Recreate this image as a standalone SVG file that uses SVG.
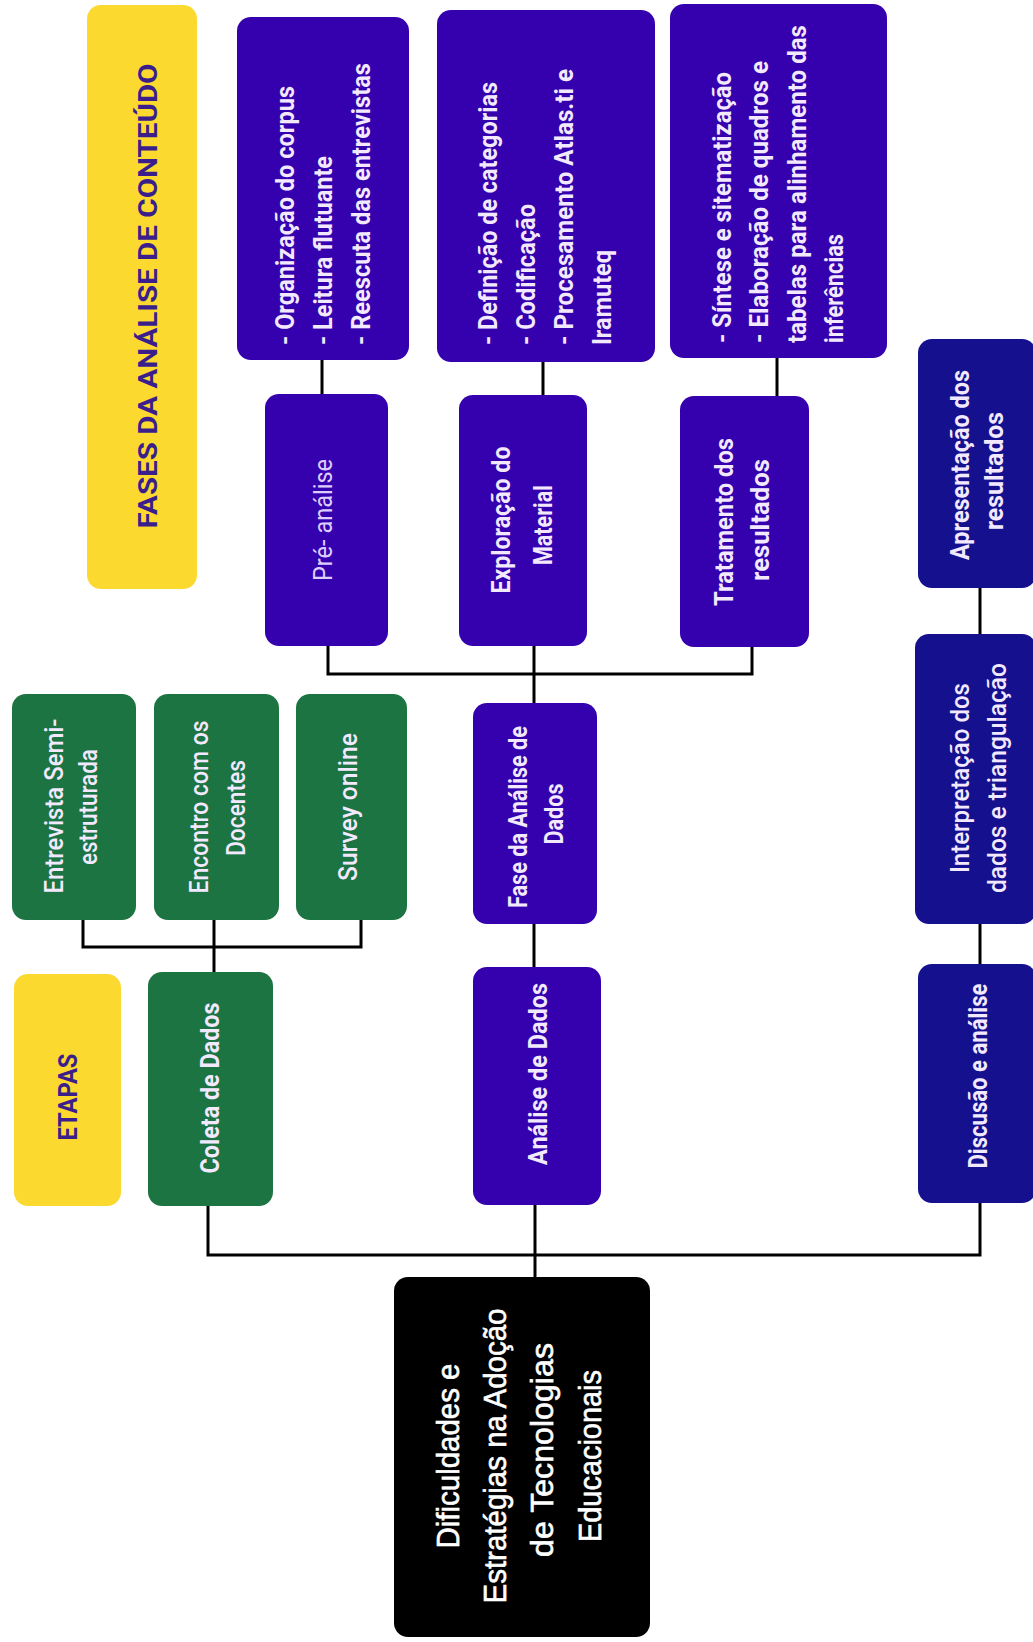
<svg xmlns="http://www.w3.org/2000/svg" width="1033" height="1642" viewBox="0 0 1033 1642">
<style>
.p{fill:#3500ad}
.n{fill:#15108e}
.g{fill:#1b7442}
.y{fill:#fcd92e}
.k{fill:#000}
.t{font-family:Roboto,'Liberation Sans',sans-serif;font-weight:700;font-size:25px;fill:#f3e9ff}
.m{font-weight:500}
.r{font-weight:400;fill:#dccdff}
.h{fill:#3a1f8c}
.b{font-family:'Liberation Sans',Arial,sans-serif;font-weight:400;font-size:31px;fill:#fff;stroke:#fff;stroke-width:0.6}
.c{stroke:#000;stroke-width:3;fill:none}
</style>
<rect width="1033" height="1642" fill="#fff"/>

<g id="connectors">
  <path class="c" d="M322,360 V394"/>
  <path class="c" d="M543,362 V395"/>
  <path class="c" d="M777,358 V396"/>
  <path class="c" d="M328,646 V674 H752 V647"/>
  <path class="c" d="M534,646 V703"/>
  <path class="c" d="M534,924 V967"/>
  <path class="c" d="M535,1205 V1277"/>
  <path class="c" d="M208,1206 V1255 H980 V1203"/>
  <path class="c" d="M980,588 V634"/>
  <path class="c" d="M980,924 V964"/>
  <path class="c" d="M83,920 V947 H361 V920"/>
  <path class="c" d="M214,920 V972"/>
</g>

<g id="fases-title">
  <rect class="y" x="87" y="5" width="110" height="584" rx="14"/>
  <text class="t h" font-size="36" text-anchor="middle" transform="translate(157,296) rotate(-90)" textLength="465" lengthAdjust="spacingAndGlyphs">FASES DA ANÁLISE DE CONTEÚDO</text>
</g>

<g id="pre-detalhes">
  <rect class="p" x="237" y="17" width="172" height="343" rx="14"/>
  <text class="t" transform="translate(294,345) rotate(-90)" textLength="259" lengthAdjust="spacingAndGlyphs">- Organização do corpus</text>
  <text class="t" transform="translate(332,345) rotate(-90)" textLength="189" lengthAdjust="spacingAndGlyphs">- Leitura flutuante</text>
  <text class="t" transform="translate(370,345) rotate(-90)" textLength="282" lengthAdjust="spacingAndGlyphs">- Reescuta das entrevistas</text>
</g>

<g id="exploracao-detalhes">
  <rect class="p" x="437" y="10" width="218" height="352" rx="14"/>
  <text class="t" transform="translate(497,345) rotate(-90)" textLength="263" lengthAdjust="spacingAndGlyphs">- Definição de categorias</text>
  <text class="t" transform="translate(535,345) rotate(-90)" textLength="141" lengthAdjust="spacingAndGlyphs">- Codificação</text>
  <text class="t" transform="translate(573,345) rotate(-90)" textLength="276" lengthAdjust="spacingAndGlyphs">- Procesamento Atlas.ti e</text>
  <text class="t" transform="translate(611,345) rotate(-90)" textLength="95" lengthAdjust="spacingAndGlyphs">Iramuteq</text>
</g>

<g id="tratamento-detalhes">
  <rect class="p" x="670" y="4" width="217" height="354" rx="14"/>
  <text class="t" transform="translate(731,343) rotate(-90)" textLength="271" lengthAdjust="spacingAndGlyphs">- Síntese e sitematização</text>
  <text class="t" transform="translate(768,343) rotate(-90)" textLength="282" lengthAdjust="spacingAndGlyphs">- Elaboração de quadros e</text>
  <text class="t" transform="translate(806,343) rotate(-90)" textLength="318" lengthAdjust="spacingAndGlyphs">tabelas para alinhamento das</text>
  <text class="t" transform="translate(843,343) rotate(-90)" textLength="109" lengthAdjust="spacingAndGlyphs">inferências</text>
</g>

<g id="pre-analise">
  <rect class="p" x="265" y="394" width="123" height="252" rx="14"/>
  <text class="t r" text-anchor="middle" transform="translate(332,520) rotate(-90)" textLength="122" lengthAdjust="spacingAndGlyphs">Pré- análise</text>
</g>

<g id="exploracao">
  <rect class="p" x="459" y="395" width="128" height="251" rx="14"/>
  <text class="t" text-anchor="middle" transform="translate(510,520) rotate(-90)" textLength="147" lengthAdjust="spacingAndGlyphs">Exploração do</text>
  <text class="t" text-anchor="middle" transform="translate(552,525) rotate(-90)" textLength="80" lengthAdjust="spacingAndGlyphs">Material</text>
</g>

<g id="tratamento">
  <rect class="p" x="680" y="396" width="129" height="251" rx="14"/>
  <text class="t" text-anchor="middle" transform="translate(733,522) rotate(-90)" textLength="168" lengthAdjust="spacingAndGlyphs">Tratamento dos</text>
  <text class="t" text-anchor="middle" transform="translate(769,520) rotate(-90)" textLength="122" lengthAdjust="spacingAndGlyphs">resultados</text>
</g>

<g id="entrevista">
  <rect class="g" x="12" y="694" width="124" height="226" rx="14"/>
  <text class="t m" text-anchor="middle" transform="translate(63,806) rotate(-90)" textLength="175" lengthAdjust="spacingAndGlyphs">Entrevista Semi-</text>
  <text class="t m" text-anchor="middle" transform="translate(97,807) rotate(-90)" textLength="116" lengthAdjust="spacingAndGlyphs">estruturada</text>
</g>

<g id="encontro">
  <rect class="g" x="154" y="694" width="125" height="226" rx="14"/>
  <text class="t m" text-anchor="middle" transform="translate(208,807) rotate(-90)" textLength="173" lengthAdjust="spacingAndGlyphs">Encontro com os</text>
  <text class="t m" text-anchor="middle" transform="translate(245,808) rotate(-90)" textLength="96" lengthAdjust="spacingAndGlyphs">Docentes</text>
</g>

<g id="survey">
  <rect class="g" x="296" y="694" width="111" height="226" rx="14"/>
  <text class="t m" text-anchor="middle" transform="translate(357,807) rotate(-90)" textLength="148" lengthAdjust="spacingAndGlyphs">Survey online</text>
</g>

<g id="etapas">
  <rect class="y" x="14" y="974" width="107" height="232" rx="14"/>
  <text class="t h" font-size="28" text-anchor="middle" transform="translate(77,1097) rotate(-90)" textLength="87" lengthAdjust="spacingAndGlyphs">ETAPAS</text>
</g>

<g id="coleta">
  <rect class="g" x="148" y="972" width="125" height="234" rx="14"/>
  <text class="t" text-anchor="middle" transform="translate(219,1088) rotate(-90)" textLength="171" lengthAdjust="spacingAndGlyphs">Coleta de Dados</text>
</g>

<g id="fase-analise">
  <rect class="p" x="473" y="703" width="124" height="221" rx="14"/>
  <text class="t" text-anchor="middle" transform="translate(527,817) rotate(-90)" textLength="182" lengthAdjust="spacingAndGlyphs">Fase da Análise de</text>
  <text class="t" text-anchor="middle" transform="translate(563,814) rotate(-90)" textLength="61" lengthAdjust="spacingAndGlyphs">Dados</text>
</g>

<g id="analise-dados">
  <rect class="p" x="473" y="967" width="128" height="238" rx="14"/>
  <text class="t" text-anchor="middle" transform="translate(547,1074) rotate(-90)" textLength="182" lengthAdjust="spacingAndGlyphs">Análise de Dados</text>
</g>

<g id="apresentacao">
  <rect class="n" x="918" y="339" width="118" height="249" rx="14"/>
  <text class="t" text-anchor="middle" transform="translate(969,465) rotate(-90)" textLength="190" lengthAdjust="spacingAndGlyphs">Apresentação dos</text>
  <text class="t" text-anchor="middle" transform="translate(1003,471) rotate(-90)" textLength="118" lengthAdjust="spacingAndGlyphs">resultados</text>
</g>

<g id="interpretacao">
  <rect class="n" x="915" y="634" width="121" height="290" rx="14"/>
  <text class="t m" text-anchor="middle" transform="translate(969,778) rotate(-90)" textLength="190" lengthAdjust="spacingAndGlyphs">Interpretação dos</text>
  <text class="t m" text-anchor="middle" transform="translate(1006,778) rotate(-90)" textLength="230" lengthAdjust="spacingAndGlyphs">dados e  triangulação</text>
</g>

<g id="discusao">
  <rect class="n" x="918" y="964" width="118" height="239" rx="14"/>
  <text class="t" text-anchor="middle" transform="translate(987,1076) rotate(-90)" textLength="185" lengthAdjust="spacingAndGlyphs">Discusão e análise</text>
</g>

<g id="tema-central">
  <rect class="k" x="394" y="1277" width="256" height="360" rx="14"/>
  <text class="b" text-anchor="middle" transform="translate(459,1456) rotate(-90)" textLength="185" lengthAdjust="spacingAndGlyphs">Dificuldades e</text>
  <text class="b" text-anchor="middle" transform="translate(506,1456) rotate(-90)" textLength="295" lengthAdjust="spacingAndGlyphs">Estratégias na Adoção</text>
  <text class="b" text-anchor="middle" transform="translate(553,1450) rotate(-90)" textLength="214" lengthAdjust="spacingAndGlyphs">de Tecnologias</text>
  <text class="b" text-anchor="middle" transform="translate(601,1456) rotate(-90)" textLength="172" lengthAdjust="spacingAndGlyphs">Educacionais</text>
</g>
</svg>
